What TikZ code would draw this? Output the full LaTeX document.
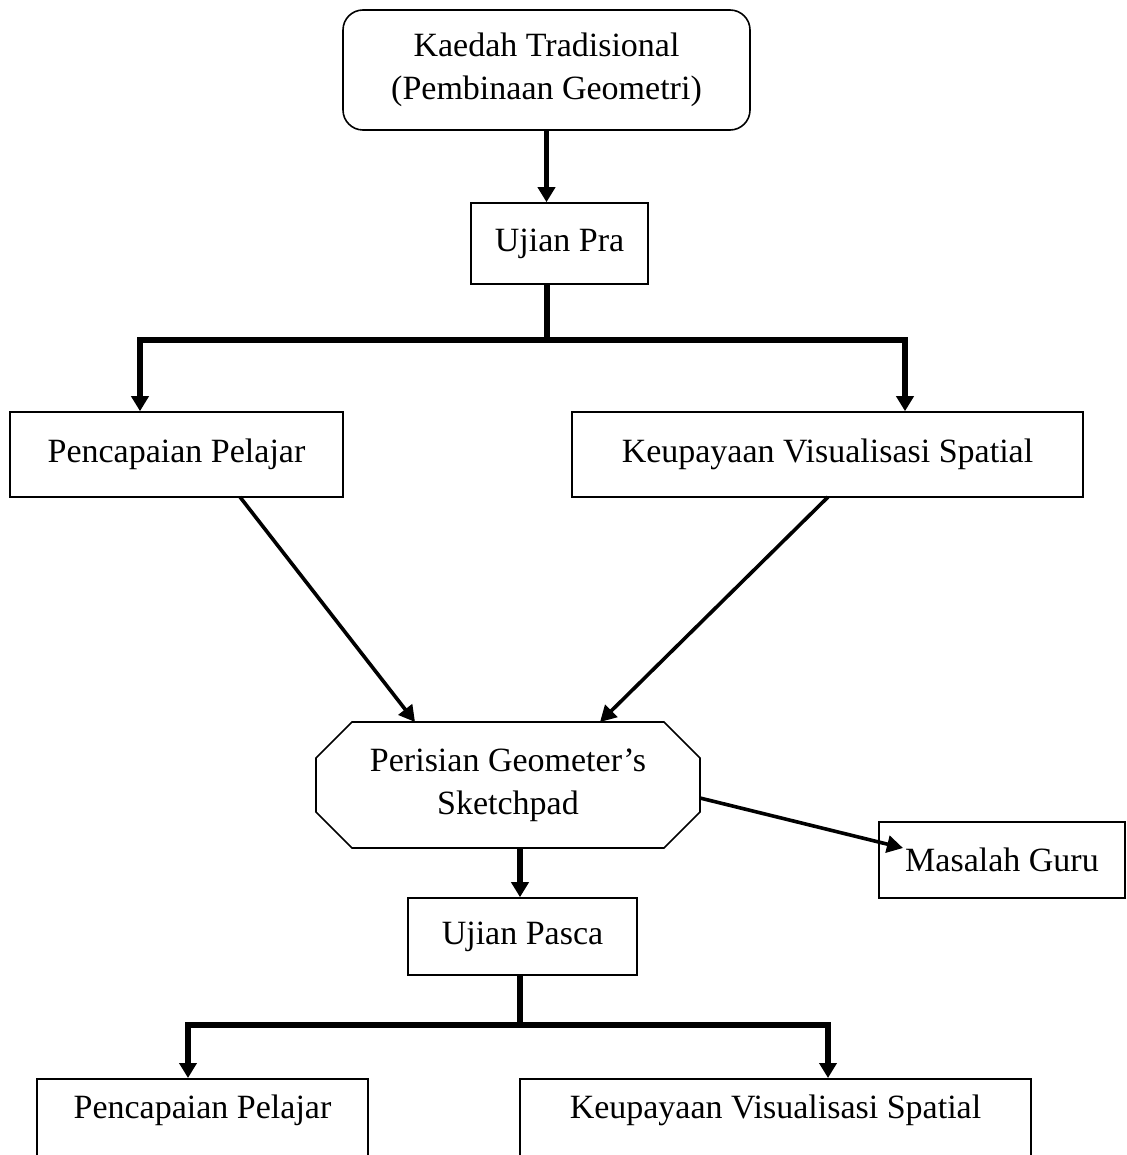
\documentclass[tikz,border=0pt]{standalone}
\usepackage{fontspec}
\setmainfont{Liberation Serif}
\usetikzlibrary{arrows.meta,calc}
\begin{document}
\begin{tikzpicture}[x=0.5pt,y=-0.5pt,
  box/.style={draw,line width=0.8pt,inner sep=0pt,align=center,font=\fontsize{17}{21.5}\selectfont},
  txt/.style={inner sep=0pt,align=center,font=\fontsize{17}{21.5}\selectfont},
  bigarrow/.style={line width=2.6pt,-{Triangle[length=7.5pt,width=8.5pt]}},
  bigline/.style={line width=2.6pt},
  midarrow/.style={line width=1.8pt,-{Triangle[length=8pt,width=8.5pt]}}]
\clip (0,0) rectangle (1127,1155);
\fill[white] (0,0) rectangle (1127,1155);
% nodes
\node[box,rounded corners=10pt,minimum width=203.5pt,minimum height=60pt] (top) at (546.5,70) {Kaedah Tradisional\\(Pembinaan Geometri)};
\node[box,minimum width=88.5pt,minimum height=40.5pt] (upra) at (559.5,243.5) {Ujian Pra};
\node[box,minimum width=166.5pt,minimum height=42.5pt] (pp1) at (176.5,454.5) {Pencapaian Pelajar};
\node[box,minimum width=255.5pt,minimum height=42.5pt] (kvs1) at (827.5,454.5) {Keupayaan Visualisasi Spatial};
\node[txt,minimum width=192pt,minimum height=63pt] (ps) at (508,785) {Perisian Geometer’s\\Sketchpad};
\draw[line width=0.8pt] (352,722) -- (664,722) -- (700,758) -- (700,812) -- (664,848) -- (352,848) -- (316,812) -- (316,758) -- cycle;
\node[box,minimum width=123pt,minimum height=38pt] (mg) at (1002,860) {Masalah Guru};
\node[box,minimum width=114.5pt,minimum height=38.5pt] (upasca) at (522.5,936.5) {Ujian Pasca};
\node[box,anchor=north,minimum width=165.5pt,text height=20pt,text depth=26pt] (pp2) at (202.5,1078) {Pencapaian Pelajar};
\node[box,anchor=north,minimum width=255.5pt,text height=20pt,text depth=26pt] (kvs2) at (775.5,1078) {Keupayaan Visualisasi Spatial};
% coordinates
\coordinate (j1) at (547,340);
\coordinate (a1) at (140,340);
\coordinate (a2) at (905,340);
\coordinate (d1s) at (240,497);
\coordinate (d1e) at (415,722);
\coordinate (d2s) at (828,497);
\coordinate (d2e) at (600,722);
\coordinate (ms) at (700,798);
\coordinate (me) at (903,848);
\coordinate (pb) at (520,848);
\coordinate (j2) at (520,1025);
\coordinate (b1) at (188,1025);
\coordinate (b2) at (828,1025);
% connectors
\draw[bigarrow] (top.south) -- (top.south |- upra.north);
\draw[bigline] (upra.south -| j1) -- (j1);
\draw[bigarrow,line join=miter] (j1) -- (a1) -- (a1 |- pp1.north);
\draw[bigarrow,line join=miter] (j1) -- (a2) -- (a2 |- kvs1.north);
\draw[midarrow] (d1s) -- (d1e);
\draw[midarrow] (d2s) -- (d2e);
\draw[midarrow] (ms) -- (me);
\draw[bigarrow] (pb) -- (pb |- upasca.north);
\draw[bigline] (upasca.south -| j2) -- (j2);
\draw[bigarrow,line join=miter] (j2) -- (b1) -- (b1 |- pp2.north);
\draw[bigarrow,line join=miter] (j2) -- (b2) -- (b2 |- kvs2.north);
\end{tikzpicture}
\end{document}
